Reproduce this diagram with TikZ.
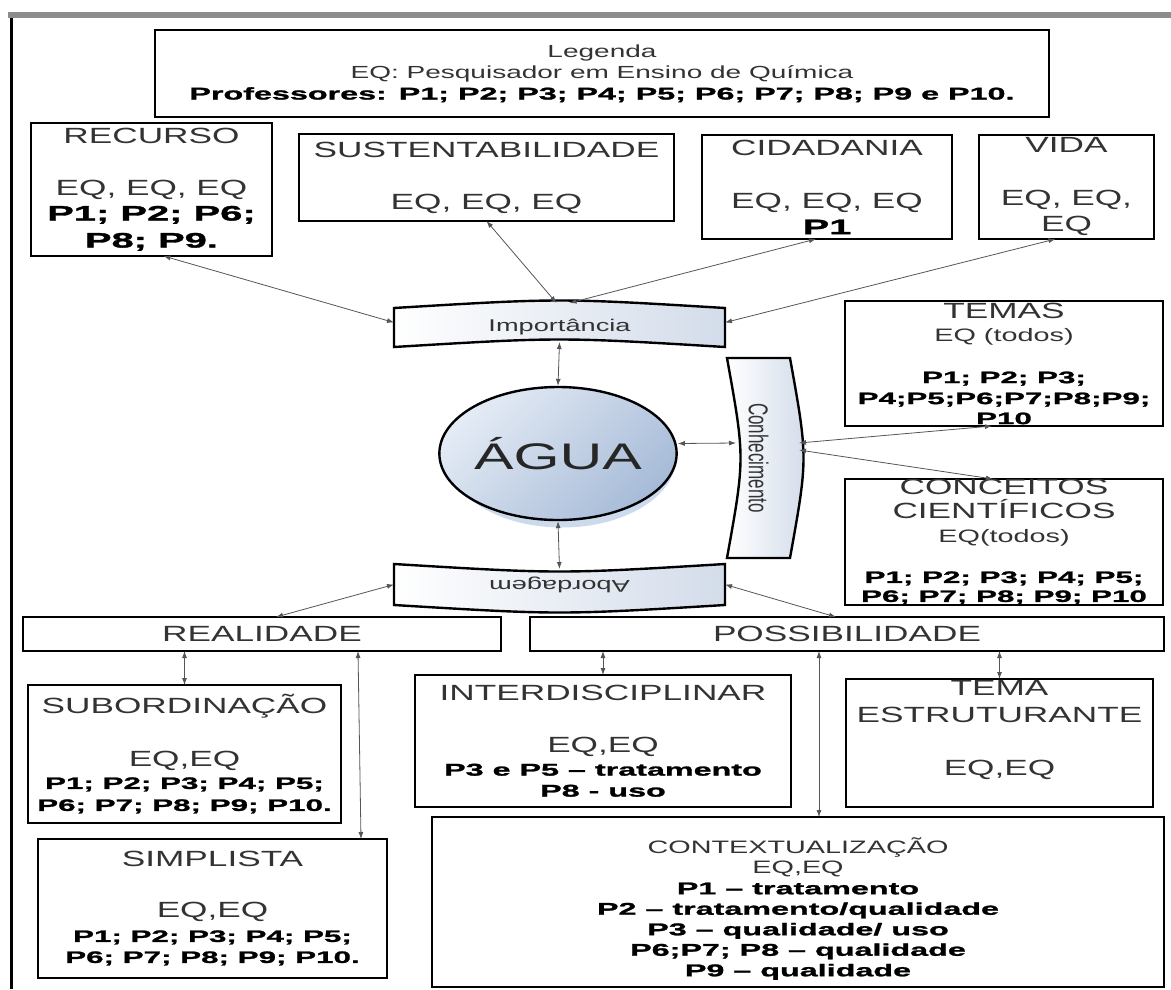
\documentclass[tikz,border=0pt]{standalone}
\usepackage{fontspec}
\usepackage{graphicx}
\usepackage{tikz}
\usetikzlibrary{shapes.geometric, arrows.meta, positioning, calc, backgrounds}
\usepackage{xcolor}
\newfontfamily\reg{Liberation Sans}[FakeStretch=1.6]
\newfontfamily\plain{Liberation Sans}
\newfontfamily\blk{Liberation Sans Bold}[FakeStretch=1.9, FakeBold=1.5]
\definecolor{framegrey}{HTML}{8C8C8C}
\definecolor{textgrey}{HTML}{333333}
\definecolor{linegrey}{HTML}{555555}
\definecolor{bentblue}{HTML}{D3DCEA}
\definecolor{aguatop}{HTML}{E4EBF5}
\definecolor{aguabot}{HTML}{A7BBD8}
\definecolor{aguaglow}{HTML}{CCDAEE}
\newcommand{\legf}{\reg\fontsize{17.5}{21}\selectfont}
\newcommand{\legb}{\blk\fontsize{17}{21}\selectfont\color{black}}
\newcommand{\hdr}{\reg\fontsize{22}{21}\selectfont}
\newcommand{\hdrs}{\reg\fontsize{18}{21}\selectfont}
\newcommand{\plb}{\blk\fontsize{21}{21}\selectfont\color{black}}
\newcommand{\pls}{\blk\fontsize{16.5}{21}\selectfont\color{black}}
\newcommand{\plc}{\blk\fontsize{17}{21}\selectfont\color{black}}
\newcommand{\ctxf}{\reg\fontsize{18}{21}\selectfont}
\tikzset{
  catbox/.style={rectangle, draw=black, line width=2.4pt, fill=white,
                 inner sep=0pt, outer sep=0pt, align=center, text=textgrey, font=\hdr},
  bentbox/.style={rectangle, inner sep=0pt, outer sep=0pt, align=center,
                  text=textgrey, font=\reg\fontsize{17}{20}\selectfont},
  bentedge/.style={draw=black, line width=2.4pt, left color=white, right color=bentblue},
  waterball/.style={ellipse, draw=black, line width=2.4pt, top color=aguatop,
                    bottom color=aguabot, shading angle=45, inner sep=0pt,
                    minimum width=222pt, minimum height=133pt,
                    font=\reg\fontsize{37}{40}\selectfont, text=black!85},
  link/.style={<->, line width=0.8pt, >={Latex[length=7pt,width=5pt]}, draw=linegrey},
}
\begin{document}
\begin{tikzpicture}[x=1pt, y=-1pt]
  \useasboundingbox (0,0) rectangle (1171,989);
  \draw[framegrey, line width=6pt] (8,15) -- (1171,15);
  \draw[black, line width=3pt] (11,18) -- (11,989);

  \node[catbox, minimum width=894pt, minimum height=87pt] (leg) at (602,73.5)
    {\legf Legenda\\\legf EQ: Pesquisador em Ensino de Química\\\legb Professores: P1; P2; P3; P4; P5; P6; P7; P8; P9 e P10.};

  \node[catbox, minimum width=241pt, minimum height=133pt] (rec) at (151.5,189.5)
    {\hdr RECURSO\\[31pt]\hdr EQ, EQ, EQ\\[4pt]\plb P1; P2; P6;\\[6pt]\plb P8; P9.};
  \node[catbox, minimum width=375pt, minimum height=87pt] (sus) at (486.5,177.5)
    {\hdr SUSTENTABILIDADE\\[31pt]\hdr EQ, EQ, EQ};
  \node[catbox, minimum width=250pt, minimum height=104pt] (cid) at (827,187)
    {\hdr CIDADANIA\\[32pt]\hdr EQ, EQ, EQ\\[5pt]\plb P1};
  \node[catbox, minimum width=175pt, minimum height=104pt] (vid) at (1066.5,187)
    {\hdr VIDA\\[32pt]\hdr EQ, EQ,\\[5pt]\hdr EQ};
  \node[catbox, minimum width=318pt, minimum height=125pt] (tem) at (1004,363.5)
    {\hdr TEMAS\\[2pt]\hdrs EQ (todos)\\[21pt]\pls P1; P2; P3;\\\pls P4;P5;P6;P7;P8;P9;\\[-1pt]\pls P10};
  \node[catbox, minimum width=318pt, minimum height=126pt] (cnc) at (1004,542)
    {\hdr CONCEITOS\\[3pt]\hdr CIENTÍFICOS\\[3pt]\hdrs EQ(todos)\\[19pt]\pls P1; P2; P3; P4; P5;\\[-2pt]\pls P6; P7; P8; P9; P10};

  \node[bentbox, minimum width=331pt, minimum height=39pt] (imp) at (559.5,327.5) {Importância};
  \node[bentbox, minimum width=63pt, minimum height=200pt] (con) at (758.5,458)
    {\rotatebox{-90}{\scalebox{1}[1.6]{\plain\fontsize{17}{20}\selectfont Conhecimento}}};
  \node[bentbox, minimum width=331pt, minimum height=41pt] (abo) at (559.5,584.5)
    {\rotatebox{180}{Abordagem}};
  \node[waterball] (agua) at (558,453.5) {ÁGUA};

  \begin{pgfonlayer}{background}
    \fill[aguaglow] ($(agua.center)+(4,4)$) ellipse [x radius=114pt, y radius=70pt];
    \draw[bentedge] (imp.north west) .. controls ($(imp.north)+(0,-10)$) .. (imp.north east)
      -- (imp.south east) .. controls ($(imp.south)+(0,-10)$) .. (imp.south west) -- cycle;
    \draw[bentedge] (abo.north west) .. controls ($(abo.north)+(0,10)$) .. (abo.north east)
      -- (abo.south east) .. controls ($(abo.south)+(0,10)$) .. (abo.south west) -- cycle;
    \draw[bentedge] (con.north west) -- (con.north east) .. controls ($(con.east)+(18,0)$) .. (con.south east)
      -- (con.south west) .. controls ($(con.west)+(18,0)$) .. (con.north west) -- cycle;
  \end{pgfonlayer}

  \node[catbox, minimum width=478pt, minimum height=34pt] (rea) at (262,634) {\hdr REALIDADE};
  \node[catbox, minimum width=634pt, minimum height=34pt] (pos) at (847,634) {\hdr POSSIBILIDADE};
  \node[catbox, minimum width=313pt, minimum height=138pt] (sub) at (184.5,754)
    {\hdr SUBORDINAÇÃO\\[32pt]\hdr EQ,EQ\\[1pt]\pls P1; P2; P3; P4; P5;\\[1pt]\pls P6; P7; P8; P9; P10.};
  \node[catbox, minimum width=349pt, minimum height=139pt] (sim) at (212.5,908.5)
    {\hdr SIMPLISTA\\[30pt]\hdr EQ,EQ\\[3pt]\pls P1; P2; P3; P4; P5;\\\pls P6; P7; P8; P9; P10.};
  \node[catbox, minimum width=376pt, minimum height=132pt] (int) at (603,741)
    {\hdr INTERDISCIPLINAR\\[31pt]\hdr EQ,EQ\\[2pt]\plc P3 e P5 – tratamento\\\plc P8 - uso};
  \node[catbox, minimum width=307pt, minimum height=128pt] (tes) at (999.5,743)
    {\hdr TEMA\\[6pt]\hdr ESTRUTURANTE\\[32pt]\hdr EQ,EQ\\[9pt]\mbox{}};
  \node[catbox, minimum width=732pt, minimum height=170pt] (ctx) at (798,902)
    {\mbox{}\\[8pt]\ctxf CONTEXTUALIZAÇÃO\\[-0.5pt]\ctxf EQ,EQ\\[-0.5pt]\plc P1 – tratamento\\[-0.5pt]\plc P2 – tratamento/qualidade\\[-0.5pt]\plc P3 – qualidade/ uso\\[-0.5pt]\plc P6;P7; P8 – qualidade\\[-0.5pt]\plc P9 – qualidade};

  \draw[link] ($(rec.south)+(12,0)$) -- ($(imp.west)+(0,-5)$);
  \draw[link] (sus.south) -- ($(imp.north)+(-3,-5)$);
  \draw[link] ($(cid.south)+(-11,0)$) -- ($(imp.north)+(10,-5)$);
  \draw[link] ($(vid.south)+(-11,0)$) -- ($(imp.east)+(0,-5)$);
  \draw[link] ($(imp.south)+(0,-5)$) -- (agua.north);
  \draw[link] ($(agua.east)+(0,-10)$) -- ($(con.west)+(9,-15)$);
  \draw[link] ($(con.east)+(9,-15)$) -- ($(tem.south)+(-12,0)$);
  \draw[link] ($(con.east)+(9,-8)$) -- ($(cnc.north)+(-11,0)$);
  \draw[link] (agua.south) -- ($(abo.north)+(0,5)$);
  \draw[link] (abo.west) -- ($(rea.north)+(14,0)$);
  \draw[link] (abo.east) -- ($(pos.north)+(-11,0)$);
  \draw[link] (sub.north |- rea.south) -- (sub.north);
  \draw[link] ($(rea.south)+(96,0)$) -- ($(sim.north)+(148.5,0)$);
  \draw[link] (int.north |- pos.south) -- (int.north);
  \draw[link] ($(pos.south)+(-28,0)$) -- ($(ctx.north)+(21,0)$);
  \draw[link] (tes.north |- pos.south) -- (tes.north);
\end{tikzpicture}
\end{document}
